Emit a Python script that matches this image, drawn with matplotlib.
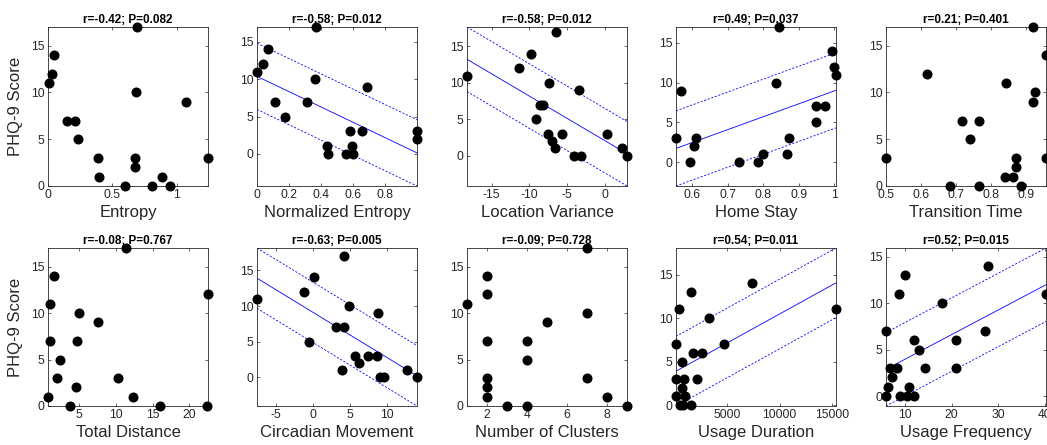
import numpy as np
import matplotlib
matplotlib.use('Agg')
import matplotlib.pyplot as plt
from matplotlib.ticker import FormatStrFormatter

plt.rcParams['font.family'] = ['Liberation Sans', 'DejaVu Sans']

# PHQ-9 score vs each feature
entropy_x = [0.005, 0.034, 0.049, 0.150, 0.212, 0.233, 0.389, 0.399, 0.598, 0.674, 0.674, 0.681, 0.692, 0.808, 0.889, 0.948, 1.073, 1.245]
entropy_y = [11, 12, 14, 7, 7, 5, 3, 1, 0, 3, 2, 10, 17, 0, 1, 0, 9, 3]

norm_entropy_x = [0.0, 0.040, 0.069, 0.111, 0.172, 0.311, 0.359, 0.367, 0.439, 0.443, 0.556, 0.577, 0.592, 0.600, 0.655, 0.687, 0.997, 0.997]
norm_entropy_y = [11, 12, 14, 7, 5, 7, 10, 17, 1, 0, 0, 3, 1, 0, 3, 9, 3, 2]

loc_var_x = [-18.25, -11.39, -9.84, -6.41, -7.34, -3.47, -8.54, -8.23, -9.12, -7.52, -6.99, -6.54, -5.61, -4.09, -3.16, 0.27, 2.27, 2.94]
loc_var_y = [11, 12, 14, 17, 10, 9, 7, 7, 5, 3, 2, 1, 3, 0, 0, 3, 1, 0]

home_x = [0.555, 0.570, 0.593, 0.607, 0.610, 0.732, 0.787, 0.800, 0.835, 0.845, 0.868, 0.874, 0.950, 0.973, 0.950, 0.995, 0.999, 1.005]
home_y = [3, 9, 0, 2, 3, 0, 0, 1, 10, 17, 1, 3, 7, 7, 5, 14, 12, 11]

trans_x = [0.5, 0.618, 0.683, 0.716, 0.741, 0.765, 0.765, 0.843, 0.841, 0.863, 0.872, 0.872, 0.885, 0.920, 0.920, 0.927, 0.957, 0.957]
trans_y = [3, 12, 0, 7, 5, 7, 0, 11, 1, 1, 3, 2, 0, 17, 9, 10, 14, 3]

dist_x = [0.75, 1.07, 1.07, 1.62, 2.03, 2.4, 3.68, 4.55, 4.69, 4.91, 7.52, 10.22, 11.36, 12.28, 15.98, 22.38, 22.52]
dist_y = [1, 7, 11, 14, 3, 5, 0, 2, 7, 10, 9, 3, 17, 1, 0, 0, 12]

circ_x = [-7.6, -1.26, 0.18, -0.59, 3.06, 4.14, 4.14, 4.91, 3.92, 5.63, 6.22, 7.39, 8.65, 8.78, 9.05, 9.55, 12.7, 14.05]
circ_y = [11, 12, 14, 5, 7, 7, 17, 10, 1, 3, 2, 3, 3, 9, 0, 0, 1, 0]

clusters_x = [1, 2, 2, 2, 2, 2, 2, 3, 4, 4, 4, 5, 7, 7, 7, 8, 9]
clusters_y = [11, 14, 12, 7, 3, 2, 1, 0, 7, 5, 0, 9, 17, 10, 3, 1, 0]

dur_x = [150, 457, 150, 150, 686, 743, 905, 1000, 524, 838, 1571, 1571, 1733, 2143, 2648, 3257, 4714, 7410, 15352]
dur_y = [7, 11, 3, 1, 5, 2, 3, 1, 0, 0, 0, 13, 6, 3, 6, 10, 7, 14, 11]

freq_x = [5.85, 5.85, 6.3, 6.66, 7.23, 8.25, 8.6, 8.97, 9.9, 10.4, 10.9, 11.8, 11.9, 12.95, 14.2, 17.8, 20.9, 20.9, 27.1, 27.9, 40.3]
freq_y = [0, 7, 1, 3, 2, 3, 11, 0, 13, 0, 1, 0, 6, 5, 3, 10, 3, 6, 7, 14, 11]

labels = ['Entropy', 'Normalized Entropy', 'Location Variance', 'Home Stay', 'Transition Time',
          'Total Distance', 'Circadian Movement', 'Number of Clusters', 'Usage Duration', 'Usage Frequency']
titles = ['r=-0.42; P=0.082', 'r=-0.58; P=0.012', 'r=-0.58; P=0.012', 'r=0.49; P=0.037', 'r=0.21; P=0.401',
          'r=-0.08; P=0.767', 'r=-0.63; P=0.005', 'r=-0.09; P=0.728', 'r=0.54; P=0.011', 'r=0.52; P=0.015']
xs = [entropy_x, norm_entropy_x, loc_var_x, home_x, trans_x, dist_x, circ_x, clusters_x, dur_x, freq_x]
ys = [entropy_y, norm_entropy_y, loc_var_y, home_y, trans_y, dist_y, circ_y, clusters_y, dur_y, freq_y]
show_fit = [False, True, True, True, False, False, True, False, True, True]
xticks = [[0, 0.5, 1], [0, 0.2, 0.4, 0.6, 0.8], [-15, -10, -5, 0], [0.6, 0.7, 0.8, 0.9, 1],
          [0.5, 0.6, 0.7, 0.8, 0.9], [5, 10, 15, 20], [-5, 0, 5, 10], [2, 4, 6, 8],
          [5000, 10000, 15000], [10, 20, 30, 40]]

W, H = 1047, 445
fig = plt.figure(figsize=(W / 100, H / 100), dpi=100)
lefts = [48, 257, 467, 676, 886]
rows = [(27, 186), (248, 406)]
grey = (0.15, 0.15, 0.15)

for i in range(10):
    r, c = divmod(i, 5)
    top, bot = rows[r]
    ax = fig.add_axes([lefts[c] / W, 1 - bot / H, 160 / W, (bot - top) / H])
    x = np.array(xs[i], dtype=float)
    y = np.array(ys[i], dtype=float)
    x0, x1 = x.min(), x.max()
    ylo, yhi = y.min(), y.max()
    if show_fit[i]:
        # least squares line with +/- one residual std
        k, b = np.polyfit(x, y, 1)
        s = np.sqrt(np.sum((y - (k * x + b))**2) / (len(x) - 2))
        xl = np.array([x0, x1])
        yl = k * xl + b
        ax.plot(xl, yl, '-', color='b', lw=0.6)
        ax.plot(xl, yl + s, '--', color='b', lw=0.6, dashes=(2.5, 2))
        ax.plot(xl, yl - s, '--', color='b', lw=0.6, dashes=(2.5, 2))
        ylo = min(ylo, (yl - s).min())
        yhi = max(yhi, (yl + s).max())
    ax.plot(x, y, 'o', color='k', ms=6.2, clip_on=False, zorder=3)
    ax.set_xlim(x0, x1)
    ax.set_ylim(ylo, yhi)
    ax.set_xticks(xticks[i])
    ax.set_yticks([0, 5, 10, 15])
    ax.xaxis.set_major_formatter(FormatStrFormatter('%g'))
    ax.tick_params(direction='in', length=2.5, width=0.5, top=True, right=True,
                   labelsize=8.7, colors=grey, pad=2.5)
    for sp in ax.spines.values():
        sp.set_color(grey)
        sp.set_linewidth(0.6)
    ax.set_title(titles[i], fontsize=8.5, fontweight='bold', pad=3)
    ax.set_xlabel(labels[i], fontsize=12, color=grey, labelpad=2.5)
    if c == 0:
        ax.set_ylabel('PHQ-9 Score', fontsize=12, color=grey)
        ax.yaxis.set_label_coords(-0.155, 0.5)

fig.savefig('out.png', dpi=100)
